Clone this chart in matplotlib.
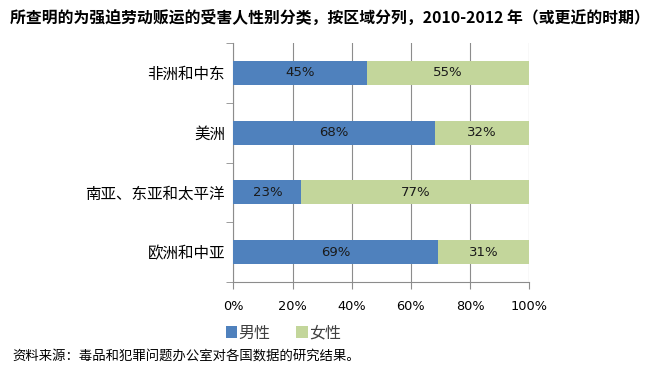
import matplotlib
matplotlib.use("Agg")
import matplotlib.pyplot as plt
import numpy as np

plt.rcParams['font.family'] = ['Noto Sans CJK SC', 'DejaVu Sans']

categories = ["非洲和中东", "美洲", "南亚、东亚和太平洋", "欧洲和中亚"]
male = [45, 68, 23, 69]
female = [55, 32, 77, 31]
series_names = ["男性", "女性"]
xticks = [0, 20, 40, 60, 80, 100]
xticklabels = ["0%", "20%", "40%", "60%", "80%", "100%"]
title = "所查明的为强迫劳动贩运的受害人性别分类，按区域分列，2010-2012 年（或更近的时期）"
source = "资料来源：毒品和犯罪问题办公室对各国数据的研究结果。"

blue = "#4F81BD"
green = "#C3D69B"
grid_c = "#8C8C8C"

fig = plt.figure(figsize=(6.5, 3.7), dpi=100)
ax = fig.add_axes([233.3/650, 1-282/370, (529.3-233.3)/650, (282-43)/370])

y = np.arange(len(categories))
h = 0.40
b1 = ax.barh(y, male, height=h, color=blue, label=series_names[0], zorder=3)
b2 = ax.barh(y, female, left=male, height=h, color=green, label=series_names[1], zorder=3)

for i in range(len(categories)):
    ax.text(male[i]/2, y[i], f"{male[i]}%", ha='center', va='center', fontsize=9.5,
            family=['DejaVu Sans'], color='#1a1a1a', zorder=4)
    ax.text(male[i] + female[i]/2, y[i], f"{female[i]}%", ha='center', va='center',
            fontsize=9.5, family=['DejaVu Sans'], color='#1a1a1a', zorder=4)

ax.set_xlim(0, 100)
ax.set_ylim(len(categories) - 0.5, -0.5)
ax.set_xticks(xticks)
ax.set_xticklabels(xticklabels, family=['DejaVu Sans'], fontsize=9.3)
ax.set_yticks(y)
ax.set_yticklabels(categories, fontsize=11.2)
ax.tick_params(axis='y', length=0, pad=6)
ax.tick_params(axis='x', length=5, direction='out', color=grid_c, pad=8)
ax.set_yticks(np.arange(-0.5, len(categories), 1.0), minor=True)
ax.tick_params(axis='y', which='minor', length=5, color=grid_c)

ax.xaxis.grid(True, color=grid_c, linewidth=0.8, zorder=0)
for s in ['top', 'right']:
    ax.spines[s].set_visible(False)
for s in ['left', 'bottom']:
    ax.spines[s].set_color(grid_c)
    ax.spines[s].set_linewidth(0.8)

fig.text(10/650, 1-18/370, title, fontsize=11.4, fontweight='bold', ha='left', va='center')
fig.text(12/650, 1-356/370, source, fontsize=9.6, ha='left', va='center')

leg = fig.legend(handles=[b1, b2], labels=series_names, loc='center left',
                 bbox_to_anchor=(226/650, 1-333/370), ncol=2, frameon=False,
                 fontsize=11.5, handlelength=0.7, handleheight=0.7, handletextpad=0.1,
                 columnspacing=1.6, borderaxespad=0, borderpad=0)
for t in leg.get_texts():
    t.set_color('#404040')

fig.savefig("out.png", dpi=100)
